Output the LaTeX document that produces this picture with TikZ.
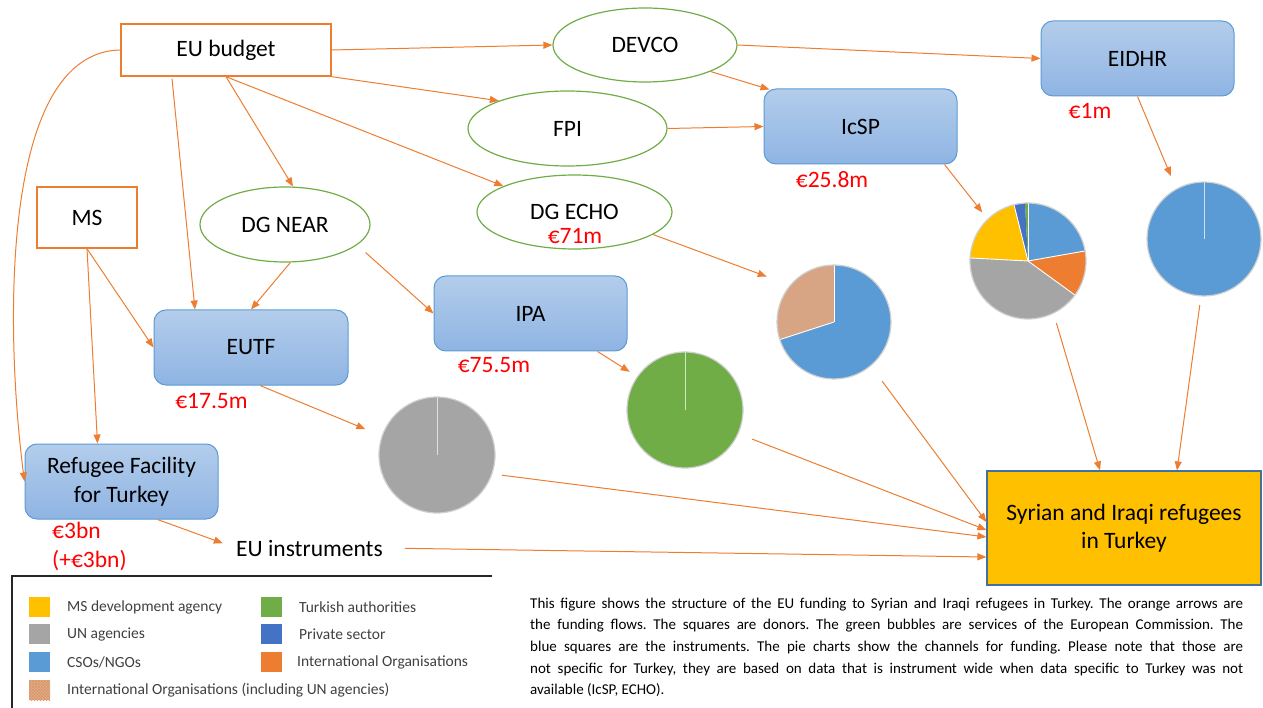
\documentclass[tikz,border=0pt]{standalone}
\usepackage{fontspec}
\setmainfont{Carlito}
\usetikzlibrary{arrows.meta,shapes.geometric,calc,patterns}
\definecolor{orln}{HTML}{ED7D31}
\definecolor{grln}{HTML}{70AD47}
\definecolor{blln}{HTML}{5B9BD5}
\definecolor{bltop}{HTML}{B3CDEB}
\definecolor{blbot}{HTML}{8FB4E3}
\definecolor{piegrey}{HTML}{A5A5A5}
\definecolor{pieblue}{HTML}{5B9BD5}
\definecolor{piegreen}{HTML}{70AD47}
\definecolor{pieyellow}{HTML}{FFC000}
\definecolor{piedark}{HTML}{4472C4}
\definecolor{pieorange}{HTML}{ED7D31}
\definecolor{pietan}{HTML}{D8A584}
\definecolor{hatchbg}{HTML}{C8B4A8}
\definecolor{pieedge}{HTML}{D0D0D0}
\definecolor{legtext}{HTML}{404040}
\definecolor{legline}{HTML}{262626}
\definecolor{syrfill}{HTML}{FFC000}
\definecolor{syrline}{HTML}{41719C}
\begin{document}
\begin{tikzpicture}[x=1pt,y=-1pt,
 every node/.style={font=\fontsize{23.5}{28}\selectfont, inner sep=0pt},
 flow/.style={draw=orln, line width=1pt, -{Triangle[length=9pt,width=7pt]}},
 donor/.style={rectangle, draw=orln, line width=1.4pt, fill=white},
 service/.style={ellipse, draw=grln, line width=1.2pt, fill=white},
 instrument/.style={rectangle, rounded corners=12pt, draw=blln, line width=1pt, top color=bltop, bottom color=blbot},
 amount/.style={text=red},
 piechart/.style={circle, minimum size=116pt},
 pieborder/.style={draw=pieedge, line width=1.2pt},
 sep/.style={draw=white, line width=0.9pt},
 legsq/.style={rectangle, minimum width=21pt, minimum height=20pt},
 legtxt/.style={anchor=west, text=legtext, font=\fontsize{15.5}{18}\selectfont},
]
\useasboundingbox (0,0) rectangle (1263,708);

% donors
\node[donor, minimum width=210pt, minimum height=52pt] (eub) at (226,50) {EU budget};
\node[donor, minimum width=100pt, minimum height=61pt] (ms) at (87,217.5) {MS};

% services
\node[service, minimum width=184pt, minimum height=74pt] (devco) at (645,45) {DEVCO};
\node[service, minimum width=199pt, minimum height=75pt] (fpi) at (567.5,128.5) {FPI};
\node[service, minimum width=195pt, minimum height=74pt] (echo) at (574.5,212) {DG ECHO};
\node[amount] (echoamt) at (575,236) {€71m};
\node[service, minimum width=170pt, minimum height=75pt] (near) at (285,224.5) {DG NEAR};

% instruments
\node[instrument, minimum width=193pt, minimum height=75pt] (icsp) at (860.5,126.5) {IcSP};
\node[instrument, minimum width=193pt, minimum height=75pt] (eidhr) at (1137.5,58.5) {EIDHR};
\node[instrument, minimum width=194pt, minimum height=75pt] (eutf) at (251,347.5) {EUTF};
\node[instrument, minimum width=193pt, minimum height=75pt] (ipa) at (530.5,313.5) {IPA};
\node[instrument, minimum width=193pt, minimum height=75pt, align=center, font=\fontsize{23.5}{29}\selectfont] (rf) at (121.5,481.5) {Refugee Facility\\for Turkey};

% amounts
\node[amount] (icspamt) at (832,180) {€25.8m};
\node[amount] (eidhramt) at (1090,111) {€1m};
\node[amount] (eutfamt) at (211.5,401) {€17.5m};
\node[amount] (ipaamt) at (494,365) {€75.5m};
\node[amount, anchor=base west] (rfamt1) at (52,538.5) {€3bn};
\node[amount, anchor=base west] (rfamt2) at (52,567) {(+€3bn)};

\node (euins) at (309.5,548) {EU instruments};

% target
\node[rectangle, draw=syrline, line width=1.2pt, fill=syrfill, minimum width=274pt, minimum height=114pt, align=center, font=\fontsize{23.5}{28}\selectfont] (syr) at (1124,528) {Syrian and Iraqi refugees\\in Turkey};

% pies
\node[piechart] (greypie) at (437,455) {};
\begin{scope}[shift={(greypie.center)}, yscale=-1]
 \fill[piegrey] (0,0) circle[radius=58];
 \draw[sep, draw=white!75!gray] (0,0) -- (90:58);
 \draw[pieborder] (0,0) circle[radius=58];
\end{scope}

\node[piechart] (greenpie) at (685,410) {};
\begin{scope}[shift={(greenpie.center)}, yscale=-1]
 \fill[piegreen] (0,0) circle[radius=58];
 \draw[sep, draw=white!70!piegreen] (0,0) -- (90:58);
 \draw[pieborder] (0,0) circle[radius=58];
\end{scope}

\node[piechart, minimum size=114pt] (echopie) at (834,322) {};
\begin{scope}[shift={(echopie.center)}, yscale=-1]
 \fill[pieblue] (0,0) -- (-162:57) arc[start angle=-162, end angle=90, radius=57] -- cycle;
 \fill[pietan] (0,0) -- (90:57) arc[start angle=90, end angle=198, radius=57] -- cycle;
 \draw[sep] (0,0) -- (90:57);
 \draw[sep] (0,0) -- (198:57);
 \draw[pieborder] (0,0) circle[radius=57];
\end{scope}

\node[piechart] (icsppie) at (1028,261) {};
\begin{scope}[shift={(icsppie.center)}, yscale=-1]
 \fill[pieblue] (0,0) -- (10:58) arc[start angle=10, end angle=90, radius=58] -- cycle;
 \fill[piegreen] (0,0) -- (90:58) arc[start angle=90, end angle=93, radius=58] -- cycle;
 \fill[piedark] (0,0) -- (93:58) arc[start angle=93, end angle=104, radius=58] -- cycle;
 \fill[pieyellow] (0,0) -- (104:58) arc[start angle=104, end angle=177, radius=58] -- cycle;
 \fill[piegrey] (0,0) -- (177:58) arc[start angle=177, end angle=324, radius=58] -- cycle;
 \fill[pieorange] (0,0) -- (324:58) arc[start angle=324, end angle=370, radius=58] -- cycle;
 \foreach \a in {10,90,104,177,324} \draw[sep] (0,0) -- (\a:58);
 \draw[pieborder] (0,0) circle[radius=58];
\end{scope}

\node[piechart, minimum size=114pt] (eidhrpie) at (1204,239) {};
\begin{scope}[shift={(eidhrpie.center)}, yscale=-1]
 \fill[pieblue] (0,0) circle[radius=57];
 \draw[sep, draw=white!70!pieblue] (0,0) -- (90:57);
 \draw[pieborder] (0,0) circle[radius=57];
\end{scope}

% flows
\draw[flow] (eub.east) -- (devco.west);
\draw[flow] (eub.south east) -- (fpi.158);
\draw[flow] (eub.south) -- (echo.160);
\draw[flow] (eub.south) -- (near.78);
\draw[flow] ($(eub.south)+(-54,2)$) -- ($(eutf.north)+(-56,0)$);
\draw[flow] (eub.west) .. controls (0,52) and (5,330) .. (rf.west);
\draw[flow] (ms.south) -- (eutf.west);
\draw[flow] (ms.south) -- ($(rf.north west)+(73,0)$);
\draw[flow] (near.-82) -- (eutf.north);
\draw[flow] ($(near.east)+(-5,28)$) -- (ipa.west);
\draw[flow] (devco.-22) -- ($(icsp.north west)+(6,1)$);
\draw[flow] (devco.east) -- (eidhr.west);
\draw[flow] (fpi.east) -- (icsp.west);
\draw[flow, shorten >=8.5pt] ($(icsp.south east)+(-13,0)$) -- (icsppie.134);
\draw[flow, shorten >=14pt] (eidhr.south) -- (eidhrpie.119);
\draw[flow, shorten >=25pt] (echo.-16) -- (echopie.140);
\draw[flow, shorten >=9pt] ($(ipa.south east)+(-30,0)$) -- (greenpie.145);
\draw[flow, shorten >=18pt] ($(eutf.south)+(9,0)$) -- (greypie.161);
\draw[flow, shorten >=14pt] ($(rf.south)+(36,0)$) -- (euins.west);
\draw[flow, shorten <=22pt] (euins.east) -- ($(syr.west)+(0,29)$);
\draw[flow, shorten <=10pt] (greypie.-19) -- ($(syr.west)+(0,9)$);
\draw[flow, shorten <=15pt] (greenpie.-24) -- ($(syr.west)+(0,2)$);
\draw[flow, shorten <=19pt] (echopie.-50) -- ($(syr.west)+(0,-6)$);
\draw[flow, shorten <=10pt] (icsppie.-64) -- ($(syr.north)+(-24,0)$);
\draw[flow, shorten <=9pt] (eidhrpie.-93.5) -- ($(syr.north)+(53,0)$);

% legend
\draw[legline, line width=1.5pt] (12,708) -- (12,576) -- (492,576);
\node[legsq, fill=pieyellow] (lg1) at (39.5,607) {};
\node[legtxt] (lt1) at (67,607) {MS development agency};
\node[legsq, fill=piegrey] (lg2) at (39.5,634) {};
\node[legtxt] (lt2) at (67,634) {UN agencies};
\node[legsq, fill=pieblue] (lg3) at (39.5,662) {};
\node[legtxt] (lt3) at (67,662) {CSOs/NGOs};
\node[legsq, fill=hatchbg, postaction={pattern=crosshatch, pattern color=pieorange!85}] (lg4) at (39.5,690) {};
\node[legtxt] (lt4) at (67,690) {International Organisations (including UN agencies)};
\node[legsq, fill=piegreen] (lg5) at (271,607) {};
\node[legtxt] (lt5) at (299,607) {Turkish authorities};
\node[legsq, fill=piedark] (lg6) at (271,634) {};
\node[legtxt] (lt6) at (299,634) {Private sector};
\node[legsq, fill=pieorange] (lg7) at (271,662) {};
\node[legtxt] (lt7) at (297,662) {International Organisations};

% description
\node[anchor=north west, align=left, font=\fontsize{15}{21.7}\selectfont\frenchspacing] (desc) at (530,597.5) {%
\makebox[713pt][s]{This figure shows the structure of the EU funding to Syrian and Iraqi refugees in Turkey. The orange arrows are}\\
\makebox[713pt][s]{the funding flows. The squares are donors. The green bubbles are services of the European Commission. The}\\
\makebox[713pt][s]{blue squares are the instruments. The pie charts show the channels for funding. Please note that those are}\\
\makebox[713pt][s]{not specific for Turkey, they are based on data that is instrument wide when data specific to Turkey was not}\\
available (IcSP, ECHO).};
\end{tikzpicture}
\end{document}
